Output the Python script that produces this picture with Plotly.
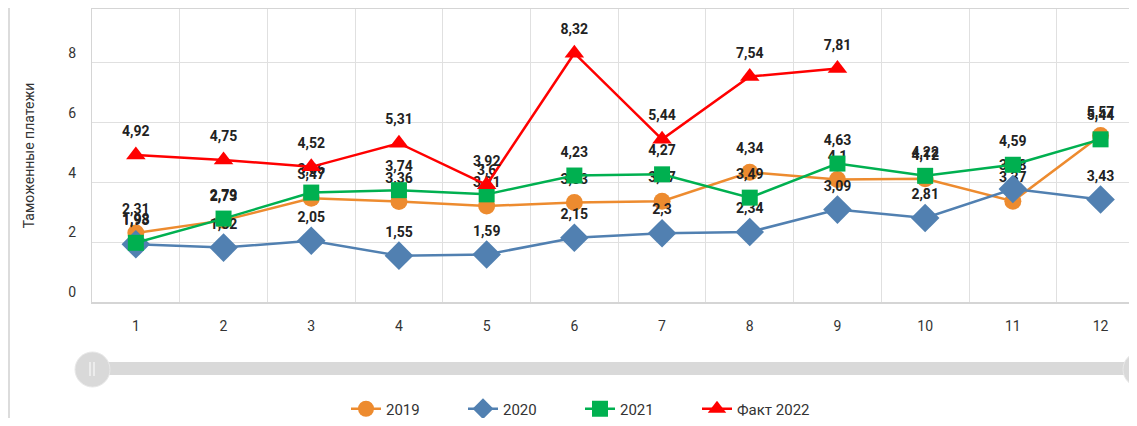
import plotly.graph_objects as go

months = ["1", "2", "3", "4", "5", "6", "7", "8", "9", "10", "11", "12"]
y2019 = [2.31, 2.73, 3.47, 3.36, 3.21, 3.33, 3.37, 4.34, 4.1, 4.12, 3.37, 5.57]
y2020 = [1.93, 1.82, 2.05, 1.55, 1.59, 2.15, 2.3, 2.34, 3.09, 2.81, 3.78, 3.43]
y2021 = [1.98, 2.79, 3.66, 3.74, 3.6, 4.23, 4.27, 3.49, 4.63, 4.22, 4.59, 5.44]
fact2022 = [4.92, 4.75, 4.52, 5.31, 3.92, 8.32, 5.44, 7.54, 7.81, None, None, None]
ytick_vals = [0, 2, 4, 6, 8]

# the page puts the figure 8px in from the window corner
W, H = 1121, 410
L, R, T, B = 84, 0, 1, 116
PW, PH = W - L - R, H - T - B


def fmt(v):
    return "" if v is None else str(v).replace(".", ",")


def px_x(x):
    # window pixel -> paper
    return (x - 8 - L) / PW


def px_y(y):
    return (H - B - (y - 8)) / PH


series = [
    ("2019", y2019, "#ED8B2F", "circle", 17),
    ("2020", y2020, "#5180B1", "diamond", 22),
    ("2021", y2021, "#00B050", "square", 16),
    ("Факт 2022", fact2022, "#FF0000", "triangle-up", 17),
]

fig = go.Figure()
for name, vals, color, sym, size in series:
    fig.add_trace(go.Scatter(
        x=months, y=vals, name=name, mode="lines+markers",
        line=dict(color=color, width=2.5),
        marker=dict(symbol=sym, size=size, color=color),
        cliponaxis=False, connectgaps=False,
    ))
    # value labels, same z-order as the series
    fig.add_trace(go.Scatter(
        x=months, y=vals, mode="markers+text", showlegend=False, hoverinfo="skip",
        marker=dict(size=23, color="rgba(0,0,0,0)"),
        text=[fmt(v) for v in vals], textposition="top center",
        textfont=dict(family="Roboto", size=14, color="#222", weight="bold"),
        cliponaxis=False,
    ))

fig.update_layout(
    width=W, height=H,
    margin=dict(l=L, r=R, t=T, b=B, autoexpand=False),
    paper_bgcolor="white", plot_bgcolor="white",
    font=dict(family="Roboto", color="#333", size=14),
    hovermode=False,
    legend=dict(orientation="h", x=px_x(580), xanchor="center", y=px_y(409), yanchor="middle",
                font=dict(size=15, color="#333"), entrywidth=72, entrywidthmode="pixels"),
    xaxis=dict(type="category", tickson="boundaries", range=[-0.5, -0.5 + PW / 87.7],
               showgrid=True, gridcolor="#e0e0e0", gridwidth=1, ticks="",
               ticklabelstandoff=10, automargin=False,
               showline=True, linecolor="#d5d5d5", linewidth=2, mirror=True,
               tickfont=dict(size=14, color="#333")),
    yaxis=dict(range=[0, PH / 29.9], tickvals=ytick_vals, showgrid=True, gridcolor="#e0e0e0",
               gridwidth=1, zeroline=False, ticklabelposition="outside top",
               ticks="", ticklabelstandoff=12, automargin=False,
               showline=True, linecolor="#d5d5d5", linewidth=1,
               title=dict(text="Таможенные платежи", font=dict(size=14, color="#333"), standoff=30),
               tickfont=dict(size=14, color="#333")),
)

# scrollbar decoration under the chart
grey = "#d9d9d9"
fig.add_shape(type="line", xref="paper", yref="paper", x0=px_x(9), x1=px_x(9),
              y0=px_y(8), y1=px_y(426), line=dict(color="#dcdcdc", width=2), layer="below")
fig.add_shape(type="rect", xref="paper", yref="paper", x0=px_x(100), x1=px_x(1137),
              y0=px_y(362), y1=px_y(375), fillcolor=grey, line=dict(width=0))
fig.add_shape(type="circle", xref="paper", yref="paper", x0=px_x(75), x1=px_x(110),
              y0=px_y(352), y1=px_y(387), fillcolor=grey, line=dict(color="#e8e8e8", width=1))
fig.add_shape(type="circle", xref="paper", yref="paper", x0=px_x(1123), x1=px_x(1158),
              y0=px_y(352), y1=px_y(387), fillcolor=grey, line=dict(color="#e8e8e8", width=1))
for xx in (90, 94):
    fig.add_shape(type="line", xref="paper", yref="paper", x0=px_x(xx), x1=px_x(xx),
                  y0=px_y(362), y1=px_y(376), line=dict(color="white", width=1))

fig.write_html("out.html")
